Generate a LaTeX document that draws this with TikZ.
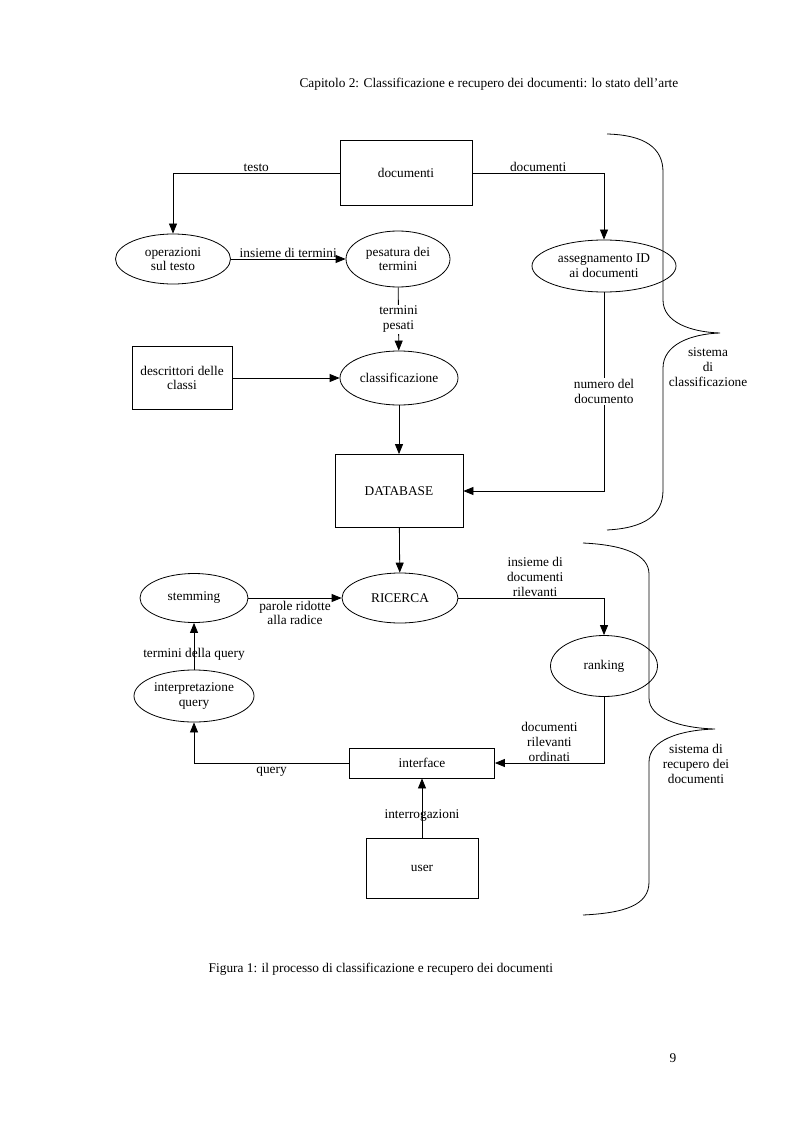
\documentclass[tikz,border=0pt]{standalone}
\usepackage{fontspec}
\setmainfont{Liberation Serif}
\usetikzlibrary{shapes.geometric,arrows.meta}
\begin{document}
\begin{tikzpicture}[x=0.75pt,y=-0.75pt,
 every node/.style={font=\fontsize{10}{11}\selectfont, align=center},
 box/.style={draw, rectangle, inner sep=0pt, line width=0.6pt},
 ell/.style={draw, ellipse, inner sep=0pt, line width=0.6pt},
 arr/.style={-{Triangle[length=7.5pt,width=6pt]}, line width=0.6pt},
 lbl/.style={fill=white, inner sep=1pt},
 brace/.style={line width=0.6pt}]
\useasboundingbox (0,0) rectangle (793,1123);
\fill[white] (0,0) rectangle (793,1123);

% header, caption, page number
\node[anchor=base east] (hdr) at (683,88) {Capitolo 2: Classificazione e recupero dei documenti: lo stato dell’arte};
\node[anchor=base west] (cap) at (204,972) {Figura 1: il processo di classificazione e recupero dei documenti};
\node[anchor=base east] (pg) at (681,1062) {9};

% nodes
\node[box, minimum width=99pt, minimum height=48.75pt] (doc) at (406,173) {documenti};
\node[ell, minimum width=86.25pt, minimum height=37.5pt] (oper) at (173,259) {operazioni\\sul testo};
\node[ell, minimum width=78pt, minimum height=42pt] (pes) at (398,259) {pesatura dei\\termini};
\node[ell, minimum width=108pt, minimum height=39pt, inner sep=-4pt] (ass) at (604,266) {assegnamento ID\\ai documenti};
\node[ell, minimum width=88.5pt, minimum height=40.5pt] (cla) at (399,378) {classificazione};
\node[box, minimum width=75pt, minimum height=47.25pt] (des) at (182,378) {descrittori delle\\classi};
\node[box, minimum width=96pt, minimum height=54.75pt] (db) at (399,491) {DATABASE};
\node[ell, minimum width=87pt, minimum height=37.5pt] (ric) at (400,598) {RICERCA};
\node[ell, minimum width=81pt, minimum height=36.75pt] (stem) at (194,598) {stemming};
\node[ell, minimum width=80.25pt, minimum height=45.75pt] (rank) at (604,666) {ranking};
\node[box, minimum width=108.75pt, minimum height=22.5pt] (int) at (422,763) {interface};
\node[ell, minimum width=90pt, minimum height=39pt] (interp) at (194,696) {interpretazione\\query};
\node[box, minimum width=84pt, minimum height=45pt] (user) at (422,868) {user};

% connectors
\draw[arr] (doc.west) -| node[pos=0.25, above, inner sep=1pt]{testo} (oper.north);
\draw[arr] (doc.east) -| node[pos=0.25, above, inner sep=1pt]{documenti} (ass.north);
\draw[arr] (oper) -- node[above, inner sep=1pt]{insieme di termini} (pes);
\draw[arr] (pes) -- node[lbl]{termini\\pesati} (cla);
\draw[arr] (des) -- (cla);
\draw[arr] (cla) -- (db);
\draw[arr] (ass.south) |- node[pos=0.25, lbl]{numero del\\documento} (db.east);
\draw[arr] (db) -- (ric);
\draw[arr] (stem) -- node[below, inner sep=2pt]{parole ridotte\\alla radice} (ric);
\draw[arr] (ric.east) -| node[pos=0.25, above, inner sep=1pt, xshift=3pt]{insieme di\\documenti\\rilevanti} (rank.north);
\draw[arr] (rank.south) |- node[pos=0.75, above, inner sep=1pt]{documenti\\rilevanti\\ordinati} (int.east);
\draw[arr] (int.west) -| node[pos=0.25, below, inner sep=3pt]{query} (interp.south);
\draw[arr] (interp) -- node[pos=0.32]{termini della query} (stem);
\draw[arr] (user) -- node[pos=0.38]{interrogazioni} (int);

% braces
\draw[brace] (607,134) .. controls (645,135) and (663,148) .. (663,172)
  -- (663,300) .. controls (663,322) and (690,332) .. (720,333)
  .. controls (690,334) and (663,345) .. (663,368)
  -- (663,490) .. controls (663,515) and (645,528) .. (607,530);
\node (bl1) at (708,367) {sistema\\di\\classificazione};

\draw[brace] (583,543) .. controls (625,545) and (649,555) .. (649,574)
  -- (649,698) .. controls (649,718) and (680,728) .. (715,729)
  .. controls (680,730) and (649,740) .. (649,762)
  -- (649,882) .. controls (649,905) and (625,913) .. (583,915);
\node (bl2) at (696,764) {sistema di\\recupero dei\\documenti};
\end{tikzpicture}
\end{document}
